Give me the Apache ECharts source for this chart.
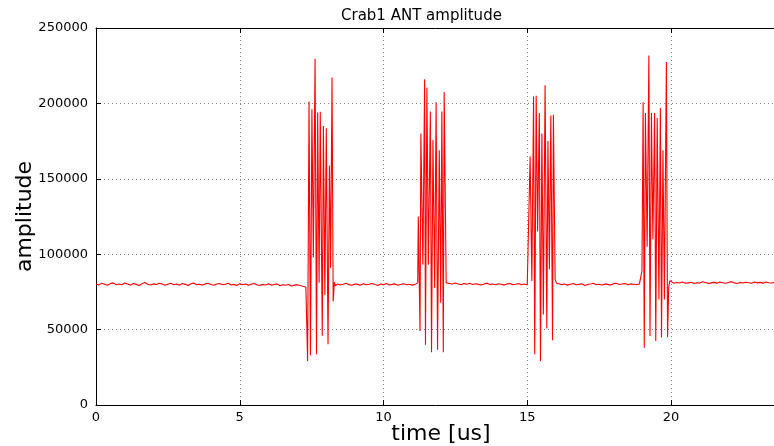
<!DOCTYPE html>
<html>
<head>
<meta charset="utf-8">
<script src="https://cdn.jsdelivr.net/npm/echarts@6/dist/echarts.min.js"></script>
<style>html,body{margin:0;padding:0;background:#fff}#c{width:774px;height:446px}</style>
</head>
<body>
<div id="c"></div>
<script>
// ---- data (time in us, amplitude) ----
const chartTitle = "Crab1 ANT amplitude";
const xName = "time [us]";
const yName = "amplitude";
const xTicks = [0, 5, 10, 15, 20];
const yTicks = [0, 50000, 100000, 150000, 200000, 250000];

// baseline segments: start time, sample step, values
const segAStart = 0.0, segStep = 0.1;
const segAValues = [80200, 79600, 80800, 80100, 79400, 80500, 81000, 79800, 80300, 79700,
  80900, 80200, 79500, 80600, 80000, 79300, 80400, 81200, 80100, 79600,
  80300, 79900, 80700, 80200, 79400, 80100, 80800, 79700, 80200, 79500,
  80600, 80000, 79200, 80400, 80900, 79800, 80100, 79500, 80300, 80700,
  79900, 79400, 80200, 80600, 79700, 80100, 80800, 79600, 80000, 79300,
  80500, 79800, 80200, 79500, 80100, 80600, 79700, 79300, 80000, 79600,
  80400, 79500, 79900, 80300, 79100, 79700, 79400, 79900, 78900, 79500,
  79800, 79200, 78700, 78300];

const burst1Times = [7.36, 7.41, 7.46, 7.51, 7.56, 7.62, 7.67, 7.71, 7.76, 7.80, 7.87, 7.91, 7.96, 8.01, 8.07, 8.12, 8.16, 8.21, 8.25, 8.29, 8.33];
const burst1Values = [29000, 201300, 33000, 196200, 98000, 229600, 33600, 194000, 81000, 194500, 46000, 185000, 73000, 183500, 40300, 158600, 91000, 217200, 68700, 81500, 79000];

const segBStart = 8.4;
const segBValues = [80300, 79600, 80100, 80700, 79800, 79400, 80200, 80000, 79500, 80400,
  79700, 80100, 80600, 79900, 79300, 80200, 79800, 80500, 79600, 80000,
  80300, 79400, 79900, 80400, 79700, 80100, 79500, 80000];

const burst2Times = [11.15, 11.19, 11.21, 11.24, 11.27, 11.30, 11.37, 11.43, 11.46, 11.51, 11.56, 11.63, 11.67, 11.72, 11.78, 11.83, 11.88, 11.94, 11.99, 12.03, 12.08, 12.11, 12.18, 12.24];
const burst2Values = [80000, 81000, 125000, 124000, 49000, 180000, 93000, 216000, 40000, 210600, 93000, 194700, 35000, 175800, 77800, 200700, 36700, 169000, 67800, 194700, 35000, 207500, 81000, 80200];

const segCStart = 12.3;
const segCValues = [80600, 80200, 80900, 80300, 79800, 80500, 80100, 80700, 79900, 80400,
  80000, 79600, 80300, 80800, 79900, 80200, 79700, 80400, 80100, 79500,
  80300, 80600, 79800, 80100, 80500, 79700, 80200, 79600];

const burst3Times = [15.06, 15.10, 15.16, 15.22, 15.26, 15.31, 15.36, 15.42, 15.46, 15.51, 15.56, 15.62, 15.68, 15.72, 15.77, 15.82, 15.88, 15.91, 15.97, 16.03];
const burst3Values = [79500, 164800, 82200, 204600, 33600, 205000, 115000, 193600, 29000, 180000, 60000, 212000, 50700, 175000, 90000, 192000, 43000, 192500, 83000, 80500];

const segDStart = 16.1;
const segDValues = [80400, 79800, 80200, 79500, 80100, 80600, 79700, 80000, 80400, 79300,
  79900, 80200, 80700, 79800, 80100, 79600, 80300, 80000, 79500, 80400,
  80800, 79900, 80200, 80500, 79700, 80300, 80100, 79800, 80200];

const burst4Times = [18.95, 18.99, 19.03, 19.07, 19.11, 19.17, 19.23, 19.27, 19.32, 19.37, 19.43, 19.47, 19.52, 19.58, 19.63, 19.67, 19.72, 19.77, 19.84, 19.88, 19.92, 19.96];
const burst4Values = [81000, 89000, 200700, 38000, 193600, 105000, 231800, 45800, 193600, 110000, 193600, 42500, 190300, 70000, 197000, 44700, 169000, 70000, 227400, 45000, 78000, 82500];

const segEStart = 20.0;
const segEValues = [81500, 80700, 81200, 80900, 81600, 80800, 81000, 81400, 80600, 81100,
  80900, 81700, 81200, 80500, 81000, 81300, 80800, 81500, 81100, 80700,
  81200, 81800, 81000, 80600, 81300, 80900, 81400, 81100, 80700, 81500,
  81000, 81300, 80800, 81600, 81100, 80900, 81400, 81000, 81700, 81200, 80800];

// ---- assemble points ----
function seg(start, vals) { return vals.map((v, i) => [+(start + i * segStep).toFixed(3), v]); }
function burst(ts, vs) { return ts.map((t, i) => [t, vs[i]]); }
const points = [].concat(
  seg(segAStart, segAValues), burst(burst1Times, burst1Values),
  seg(segBStart, segBValues), burst(burst2Times, burst2Values),
  seg(segCStart, segCValues), burst(burst3Times, burst3Values),
  seg(segDStart, segDValues), burst(burst4Times, burst4Values),
  seg(segEStart, segEValues)
);

const FONT = 'DejaVu Sans';
const chart = echarts.init(document.getElementById('c'), null, {renderer: 'canvas'});
const gridLine = {show: true, lineStyle: {color: '#808080', width: 1, type: [1, 3]}};
chart.setOption({
  animation: false,
  backgroundColor: '#ffffff',
  grid: {left: 96, top: 28, width: 690, height: 377, containLabel: false, outerBoundsMode: 'none'},
  graphic: [{
    type: 'text', left: 441 - 100, top: 9,
    style: {text: chartTitle, font: '15px "DejaVu Sans"', fill: '#000', width: 200, align: 'center'}
  }],
  xAxis: [{
    type: 'value', min: 0, max: 24, interval: 5, position: 'bottom',
    name: xName, nameLocation: 'middle', nameGap: 18, nameMoveOverlap: false,
    nameTextStyle: {fontFamily: FONT, fontSize: 22, color: '#000', verticalAlign: 'top'},
    axisLine: {show: true, onZero: false, lineStyle: {color: '#000', width: 1}},
    axisTick: {show: true, inside: true, length: 5, lineStyle: {color: '#000'}},
    axisLabel: {show: true, fontFamily: FONT, fontSize: 13, color: '#000', margin: 6, showMaxLabel: false,
      formatter: v => xTicks.includes(v) ? String(v) : ''},
    splitLine: gridLine
  }, {
    type: 'value', min: 0, max: 24, interval: 5, position: 'top',
    axisLine: {show: true, onZero: false, lineStyle: {color: '#000', width: 1}},
    axisTick: {show: true, inside: true, length: 5, lineStyle: {color: '#000'}},
    axisLabel: {show: false}, splitLine: {show: false}
  }],
  yAxis: [{
    type: 'value', min: 0, max: 250000, interval: 50000,
    name: yName, nameLocation: 'middle', nameGap: 71, nameRotate: 90, nameMoveOverlap: false,
    nameTextStyle: {fontFamily: FONT, fontSize: 22, color: '#000', verticalAlign: 'middle'},
    axisLine: {show: true, onZero: false, lineStyle: {color: '#000', width: 1}},
    axisTick: {show: true, inside: true, length: 5, lineStyle: {color: '#000'}},
    axisLabel: {show: true, fontFamily: FONT, fontSize: 13, color: '#000', margin: 8,
      formatter: v => yTicks.includes(v) ? String(v) : ''},
    splitLine: gridLine
  }],
  series: [{
    type: 'line', data: points, showSymbol: false, symbol: 'none',
    lineStyle: {color: '#ff0000', width: 1.1}, itemStyle: {color: '#ff0000'},
    silent: true
  }]
});
</script>
</body>
</html>
